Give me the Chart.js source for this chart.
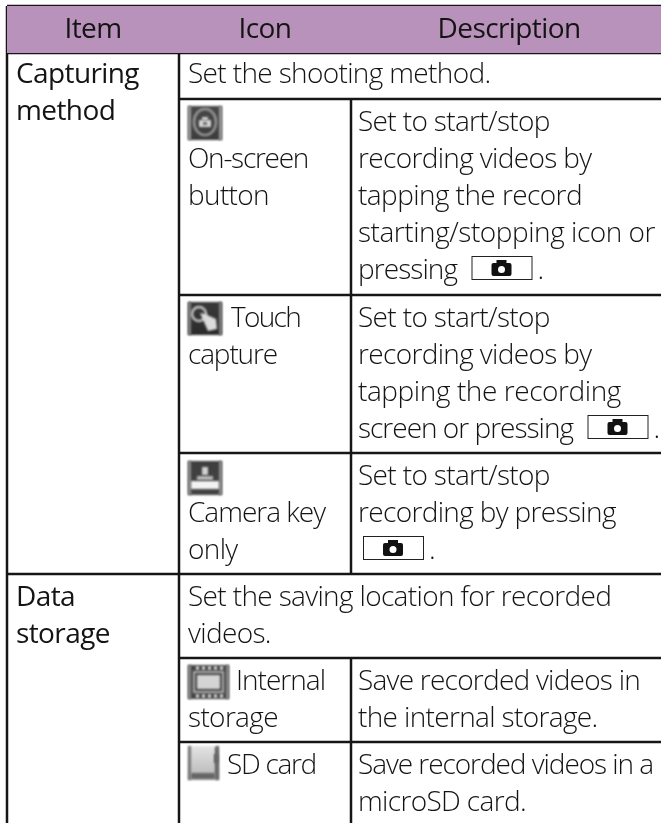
<!DOCTYPE html>
<html>
<head>
<meta charset="utf-8">
<title>Capturing method table</title>
<script src="https://cdn.jsdelivr.net/npm/chart.js@4/dist/chart.umd.min.js"></script>
<style>
  html, body { margin: 0; padding: 0; background: #fff; overflow: hidden; }
  canvas { display: block; }
</style>
</head>
<body>
<canvas id="chart-01" width="661" height="823"></canvas>
<script>
// Table text
const headers = ['Item', 'Icon', 'Description'];
const items = [['Capturing', 'method'], ['Data', 'storage']];
const groupNotes = [['Set the shooting method.'], ['Set the saving location for recorded', 'videos.']];
const iconNames = [
    ['On-screen', 'button'],
    ['Touch', 'capture'],
    ['Camera key', 'only'],
    ['Internal', 'storage'],
    ['SD card']
];
// {key} stands for the camera key symbol
const descriptions = [
    ['Set to start/stop', 'recording videos by', 'tapping the record', 'starting/stopping icon or', 'pressing {key}.'],
    ['Set to start/stop', 'recording videos by', 'tapping the recording', 'screen or pressing {key}.'],
    ['Set to start/stop', 'recording by pressing', '{key}.'],
    ['Save recorded videos in', 'the internal storage.'],
    ['Save recorded videos in a', 'microSD card.']
];

// Table grid, in page units
const left = 7, col2 = 179, col3 = 351, right = 661;
const top_y = 6, head_y = 53, bottom = 823;
const ruleColor = '#161616';

function rule(x1, y1, x2, y2) {
    return {
        data: [{ x: x1, y: y1 }, { x: x2, y: y2 }],
        showLine: true,
        borderColor: ruleColor,
        borderWidth: 2.5,
        pointRadius: 0,
        fill: false
    };
}

const chart_01_data = {
    datasets: [
        // header band
        {
            data: [{ x: left, y: top_y }, { x: right, y: top_y }],
            showLine: true,
            borderWidth: 0,
            pointRadius: 0,
            backgroundColor: '#b892ba',
            fill: { value: head_y }
        },
        rule(left, top_y, right, top_y),
        rule(left, head_y, right, head_y),
        rule(col2, 99, right, 99),
        rule(col2, 295, right, 295),
        rule(col2, 453, right, 453),
        rule(left, 574, right, 574),
        rule(col2, 658, right, 658),
        rule(col2, 742, right, 742),
        rule(left, top_y, left, bottom),
        rule(col2, 5, col2, bottom),
        rule(col3, 5, col3, head_y),
        rule(col3, 99, col3, 574),
        rule(col3, 658, col3, bottom)
    ]
};

const line_h = 37;
const textCol = '#141414';
const regular = '400 28px "Open Sans"';
const light = '300 28px "Open Sans"';
const lightSpacing = '-0.65px';

// lines whose width differs most from the installed font
const lineFit = {
    'screen or pressing': 215,
    'pressing': 99,
    'Save recorded videos in a': 295,
    'Save recorded videos in': 282,
    'starting/stopping icon or': 297,
    'tapping the recording': 263,
    'tapping the record': 224,
    'Camera key': 137,
    'On-screen': 120,
    'Touch': 69,
    'capture': 89,
    'Internal': 89,
    'SD card': 89
};

function fitted(ctx, str) {
    ctx.letterSpacing = lightSpacing;
    const target = lineFit[str];
    if (target) {
        ctx.letterSpacing = '0px';
        const w = ctx.measureText(str).width;
        ctx.letterSpacing = ((target - w) / str.length) + 'px';
    }
}

function camKey(ctx, x, y) {
    ctx.save();
    ctx.strokeStyle = '#222';
    ctx.lineWidth = 1;
    ctx.strokeRect(x + 0.5, y + 0.5, 60, 23);
    ctx.fillStyle = '#111';
    ctx.beginPath();
    ctx.roundRect(x + 20, y + 7, 20, 13, 2);
    ctx.rect(x + 25, y + 4, 10, 4);
    ctx.fill();
    ctx.fillStyle = '#fff';
    ctx.beginPath();
    ctx.arc(x + 30, y + 13.5, 3.5, 0, Math.PI * 2);
    ctx.fill();
    ctx.restore();
}

function writeLine(ctx, str, x, y) {
    const at = str.indexOf('{key}');
    if (at < 0) {
        fitted(ctx, str);
        ctx.fillText(str, x, y);
        return;
    }
    const before = str.slice(0, at).trim();
    fitted(ctx, before);
    ctx.fillText(before, x, y);
    const w = before ? lineFit[before] + 14.5 : 5;
    camKey(ctx, x + w, y - 23);
    ctx.letterSpacing = lightSpacing;
    ctx.fillText('.', x + w + 66, y);
}

function writeBlock(ctx, lines, x, y, firstX) {
    lines.forEach((str, i) => writeLine(ctx, str, i === 0 && firstX ? firstX : x, y + i * line_h));
}

// small screen icons, soft edges like the scaled bitmaps
function iconBase(ctx, x, y, w, h, c1, c2, edge) {
    const g = ctx.createLinearGradient(x, y, x, y + h);
    g.addColorStop(0, c1);
    g.addColorStop(1, c2);
    ctx.fillStyle = g;
    ctx.fillRect(x, y, w, h);
    ctx.fillStyle = edge;
    ctx.fillRect(x, y, 3, h);
    ctx.fillRect(x + w - 3, y, 3, h);
}

const iconDraw = [
    (ctx, x, y) => {
        iconBase(ctx, x, y, 34, 34, '#484848', '#3c3c3c', '#9a9a9a');
        ctx.strokeStyle = '#999';
        ctx.lineWidth = 2.5;
        ctx.beginPath();
        ctx.ellipse(x + 17, y + 16, 11, 13, 0, 0, Math.PI * 2);
        ctx.stroke();
        ctx.fillStyle = '#d8d8d8';
        ctx.fillRect(x + 11, y + 14, 12, 7);
        ctx.fillRect(x + 14, y + 11, 6, 3);
        ctx.fillStyle = '#666';
        ctx.fillRect(x + 15, y + 16, 4, 3);
    },
    (ctx, x, y) => {
        iconBase(ctx, x, y, 34, 33, '#3a3a3a', '#2a2a2a', '#808080');
        ctx.strokeStyle = '#c4c4c4';
        ctx.lineWidth = 2.5;
        ctx.beginPath();
        ctx.arc(x + 11, y + 12, 7, 0, Math.PI * 2);
        ctx.stroke();
        ctx.fillStyle = '#dcdcdc';
        ctx.beginPath();
        ctx.moveTo(x + 12, y + 11);
        ctx.lineTo(x + 17, y + 12);
        ctx.lineTo(x + 28, y + 17);
        ctx.lineTo(x + 29, y + 27);
        ctx.lineTo(x + 20, y + 29);
        ctx.closePath();
        ctx.fill();
    },
    (ctx, x, y) => {
        iconBase(ctx, x, y, 34, 34, '#3e3e3e', '#444', '#8c8c8c');
        ctx.fillStyle = '#f2f2f2';
        ctx.fillRect(x + 3, y + 20, 28, 8);
        ctx.fillStyle = '#b8b8b8';
        ctx.fillRect(x + 9, y + 15, 16, 4);
        ctx.fillStyle = '#d0d0d0';
        ctx.fillRect(x + 14, y + 6, 6, 8);
    },
    (ctx, x, y) => {
        iconBase(ctx, x, y, 41, 34, '#444', '#444', '#8a8a8a');
        ctx.fillStyle = '#d0d0d0';
        for (let i = 0; i < 5; i++) {
            ctx.fillRect(x + 8 + i * 6, y + 1, 3, 4);
            ctx.fillRect(x + 8 + i * 6, y + 29, 3, 4);
        }
        ctx.fillStyle = '#b0b0b0';
        ctx.fillRect(x + 5, y + 6, 31, 22);
        ctx.fillStyle = '#444';
        ctx.fillRect(x + 7, y + 8, 27, 18);
        ctx.fillStyle = '#d4d4d4';
        ctx.fillRect(x + 9, y + 10, 23, 14);
    },
    (ctx, x, y) => {
        iconBase(ctx, x, y, 31, 34, '#e4e4e4', '#b4b4b4', '#777');
        ctx.fillStyle = '#666';
        ctx.fillRect(x + 3, y + 27, 24, 6);
        ctx.fillRect(x + 26, y + 8, 4, 9);
        ctx.fillRect(x + 27, y + 1, 3, 32);
    }
];

// Cell layout: baseline of the description, of the icon name, icon top, start of the first name line
const subRows = [
    { base: 131, nameBase: 168, icon: 106, nameX: 188 },
    { base: 327, nameBase: 327, icon: 302, nameX: 231 },
    { base: 485, nameBase: 522, icon: 461, nameX: 188 },
    { base: 690, nameBase: 690, icon: 665, nameX: 236 },
    { base: 774, nameBase: 774, icon: 746, nameX: 227 }
];
const groupBase = [83, 606];

const tablePlugin = {
    id: 'tableText',
    afterDatasetsDraw(chart) {
        const ctx = chart.ctx;
        const sx = chart.scales.x, sy = chart.scales.y;
        const px = v => sx.getPixelForValue(v);
        const py = v => sy.getPixelForValue(v);
        ctx.save();
        ctx.fillStyle = textCol;
        ctx.textBaseline = 'alphabetic';

        ctx.font = regular;
        ctx.letterSpacing = '-0.6px';
        ctx.textAlign = 'center';
        ctx.fillText(headers[0], px(93), py(38));
        ctx.fillText(headers[1], px(265), py(38));
        ctx.fillText(headers[2], px(509), py(38));
        ctx.textAlign = 'left';

        items.forEach((lines, i) => {
            lines.forEach((str, j) => ctx.fillText(str, px(16), py(groupBase[i] + j * line_h)));
        });

        ctx.font = light;
        ctx.letterSpacing = lightSpacing;
        groupNotes.forEach((lines, i) => {
            lines.forEach((str, j) => ctx.fillText(str, px(188), py(groupBase[i] + j * line_h)));
        });

        subRows.forEach((r, i) => {
            ctx.save();
            ctx.filter = 'blur(0.8px)';
            iconDraw[i](ctx, px(188), py(r.icon));
            ctx.restore();
            writeBlock(ctx, iconNames[i], px(188), py(r.nameBase), px(r.nameX));
            writeBlock(ctx, descriptions[i], px(358), py(r.base));
        });
        ctx.restore();
    }
};

new Chart(document.getElementById('chart-01').getContext('2d'), {
    type: 'scatter',
    data: chart_01_data,
    plugins: [tablePlugin],
    options: {
        responsive: false,
        animation: false,
        clip: false,
        layout: { padding: 0 },
        plugins: {
            legend: { display: false },
            tooltip: { enabled: false }
        },
        scales: {
            x: { type: 'linear', min: 0, max: 661, display: false },
            y: { type: 'linear', min: 0, max: 823, reverse: true, display: false }
        }
    }
});
</script>
</body>
</html>
